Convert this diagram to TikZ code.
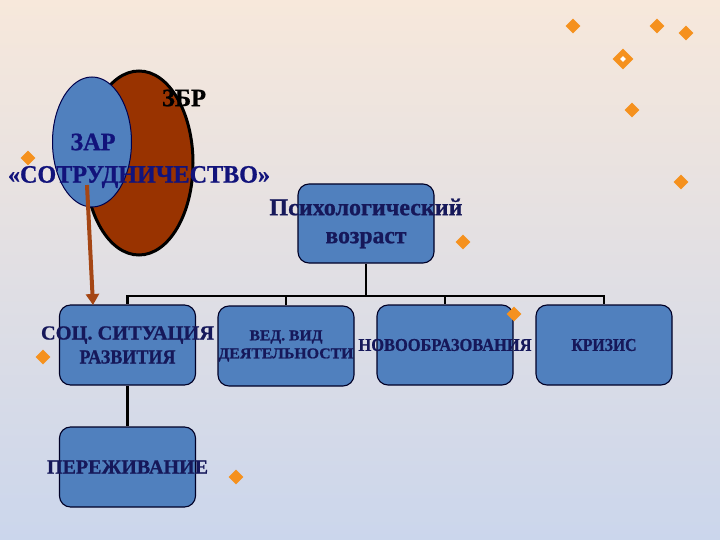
\documentclass[tikz,border=0pt]{standalone}
\usepackage{fontspec}
\setmainfont{Liberation Serif}[BoldFeatures={FakeBold=0.9}]
\usetikzlibrary{shapes.geometric,arrows.meta}
\definecolor{bgtop}{RGB}{247,232,219}
\definecolor{bgbot}{RGB}{203,214,236}
\definecolor{boxblue}{RGB}{80,128,190}
\definecolor{navy}{RGB}{22,24,90}
\definecolor{brownell}{RGB}{153,51,0}
\definecolor{arrbrown}{RGB}{165,70,20}
\definecolor{dorange}{RGB}{245,145,30}
\newcommand{\fitw}[2]{\resizebox{#1pt}{\height}{#2}}
\tikzset{
  rbox/.style={draw=black!85!blue, line width=1.1pt, fill=boxblue, rounded corners=11pt,
    minimum width=136, minimum height=80, inner sep=0, text=navy, align=center},
  tree/.style={draw=black, line width=2.4pt},
  dia/.style={diamond, fill=dorange, minimum width=15, minimum height=15, inner sep=0},
  lbl/.style={text=navy, font=\bfseries, inner sep=0}
}
\begin{document}
\begin{tikzpicture}[x=1pt,y=-1pt]
\shade[top color=bgtop, bottom color=bgbot] (0,0) rectangle (720,540);
\useasboundingbox (0,0) rectangle (720,540);
% ellipses
\node[ellipse, draw=black, line width=3pt, fill=brownell, minimum width=108, minimum height=184, inner sep=0] (zbr) at (139,163) {};
\node[ellipse, draw=black!70!blue, line width=1pt, fill=boxblue, minimum width=79, minimum height=130, inner sep=0] (zar) at (92,142) {};
\node[inner sep=0, text=black, font=\bfseries\fontsize{25}{28}\selectfont] (tzbr) at (184,98) {\fitw{44}{ЗБР}};
\node[lbl, font=\bfseries\fontsize{25}{28}\selectfont, text=navy!80!blue] (tzar) at (93,142) {\fitw{45}{ЗАР}};
\node[lbl, font=\bfseries\fontsize{25}{28}\selectfont, text=navy!80!blue] (tsotr) at (139,177) {\fitw{262}{«СОТРУДНИЧЕСТВО»}};
% boxes
\node[rbox, minimum width=136, minimum height=79, font=\bfseries\fontsize{24}{28}\selectfont] (psy) at (366,223.5)
  {\makebox[0pt]{\fitw{193}{Психологический}}\\\makebox[0pt]{\fitw{81}{возраст}}};
\node[rbox, font=\bfseries\fontsize{20}{24}\selectfont] (b1) at (127.5,345)
  {\makebox[0pt]{\fitw{173}{СОЦ. СИТУАЦИЯ}}\\\makebox[0pt]{\fitw{96}{РАЗВИТИЯ}}};
\node[rbox, font=\bfseries\fontsize{15}{18}\selectfont] (b2) at (286,346)
  {\makebox[0pt]{\fitw{73}{ВЕД. ВИД}}\\\makebox[0pt]{\fitw{135}{ДЕЯТЕЛЬНОСТИ}}};
\node[rbox, font=\bfseries\fontsize{18}{20}\selectfont] (b3) at (445,345)
  {\makebox[0pt]{\fitw{173}{НОВООБРАЗОВАНИЯ}}};
\node[rbox, font=\bfseries\fontsize{18}{20}\selectfont] (b4) at (604,345)
  {\makebox[0pt]{\fitw{65}{КРИЗИС}}};
\node[rbox, font=\bfseries\fontsize{20}{24}\selectfont] (b5) at (127.5,467)
  {\makebox[0pt]{\fitw{161}{ПЕРЕЖИВАНИЕ}}};
% tree
\coordinate (j) at (366,296);
\draw[tree] (psy.south) -- (j);
\draw[tree] (j) -| (b1.north);
\draw[tree] (j) -| (b2.north);
\draw[tree] (j) -| (b3.north);
\draw[tree] (j) -| (b4.north);
\draw[tree] (b1.south) -- (b5.north);
% arrow
\coordinate (as) at (87,185);
\coordinate (ae) at (93,305);
\draw[arrbrown, line width=4pt, -{Triangle[length=11pt,width=13pt]}] (as) -- (ae);
% diamonds
\node[dia] (d1) at (28,158) {};
\node[dia] (d2) at (43,357) {};
\node[dia] (d3) at (236,477) {};
\node[dia] (d4) at (463,242) {};
\node[dia] (d5) at (514,314) {};
\node[dia] (d6) at (573,26) {};
\node[dia] (d7) at (657,26) {};
\node[dia] (d8) at (686,33) {};
\node[dia] (d9) at (632,110) {};
\node[dia] (d10) at (681,182) {};
\node[dia, minimum width=21, minimum height=21] (d11) at (623,59) {};
\node[diamond, fill=white, minimum width=6, minimum height=6, inner sep=0] (d11c) at (623,59) {};
\end{tikzpicture}
\end{document}
